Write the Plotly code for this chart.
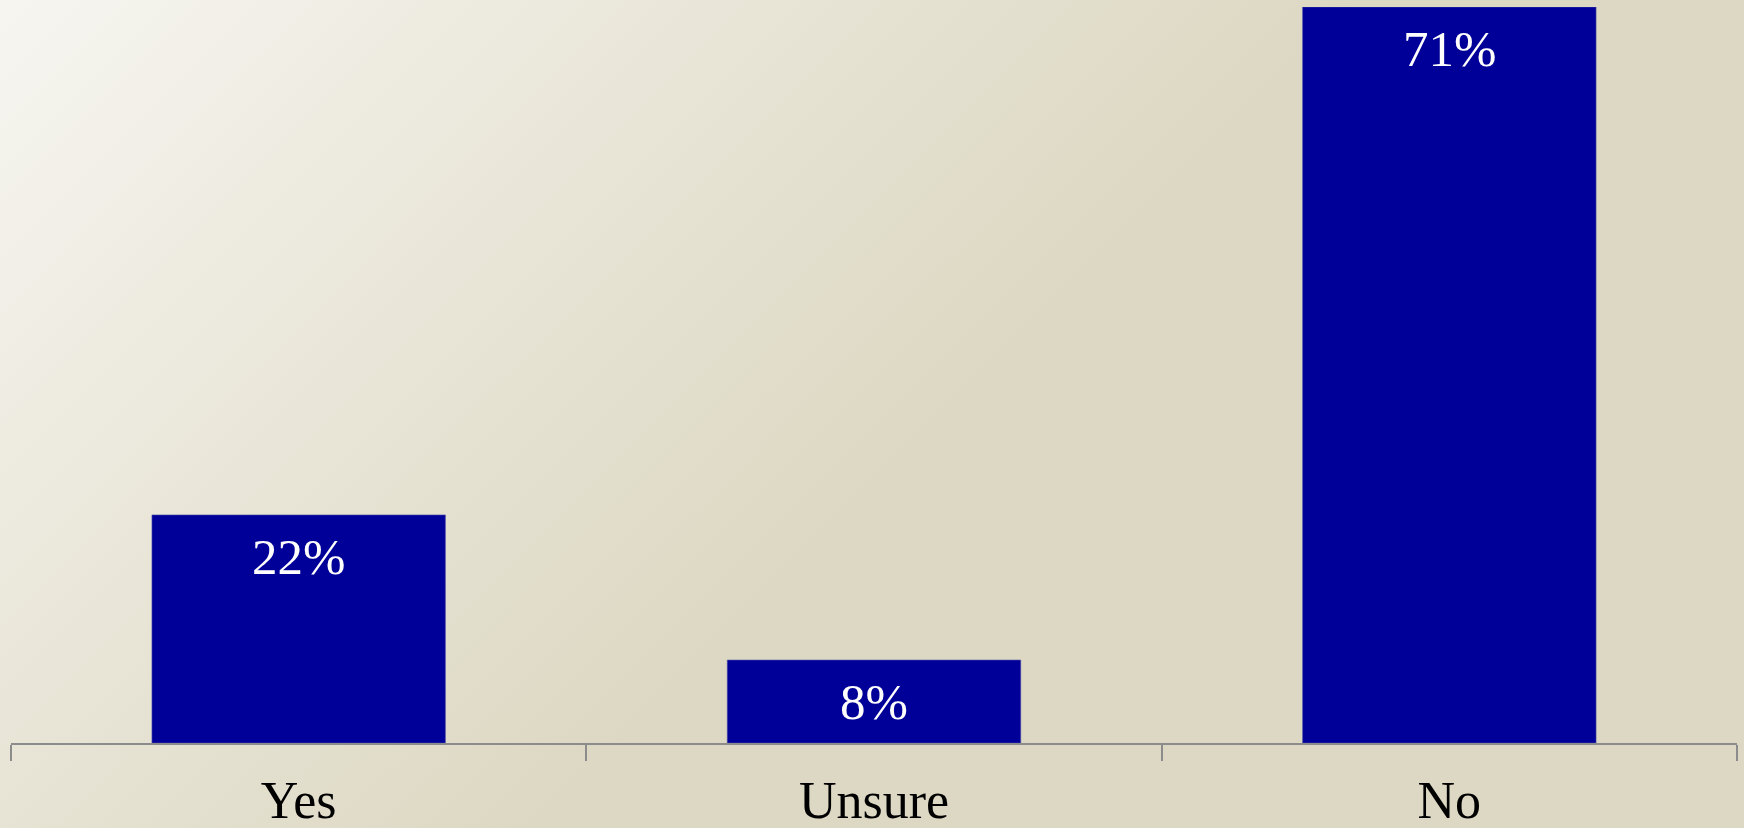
import base64
import plotly.graph_objects as go

categories = ["Yes", "Unsure", "No"]
values = [22, 8, 71]
labels = ["22%", "8%", "71%"]

W, H = 1744, 828
ML, MR, MT, MB = 11, 7, 7, 85

svg = f'''<svg xmlns="http://www.w3.org/2000/svg" width="{W}" height="{H}" viewBox="0 0 {W} {H}" preserveAspectRatio="none">
<defs><linearGradient id="g" gradientUnits="userSpaceOnUse" x1="0" y1="0" x2="680" y2="680">
<stop offset="0" stop-color="#f6f5f0"/><stop offset="1" stop-color="#ddd8c3"/></linearGradient></defs>
<rect x="0" y="0" width="{W}" height="{H}" fill="url(#g)"/></svg>'''
src = "data:image/svg+xml;base64," + base64.b64encode(svg.encode()).decode()

pw = W - ML - MR
ph = H - MT - MB

fig = go.Figure()
fig.add_trace(go.Bar(
    x=categories, y=values,
    marker=dict(color="#000099", line=dict(color="#4a4aa6", width=0.6)),
    width=0.51, hoverinfo="skip",
))

for c, v, t in zip(categories, values, labels):
    fig.add_annotation(x=c, y=v, text=t, showarrow=False, yanchor="top",
                       yshift=-12, font=dict(family="Liberation Serif", size=51, color="white"))

fig.add_layout_image(dict(
    source=src, xref="paper", yref="paper",
    x=-ML / pw, y=1 + MT / ph, sizex=W / pw, sizey=H / ph,
    xanchor="left", yanchor="top", sizing="stretch", layer="below",
))

fig.update_layout(
    width=W, height=H,
    margin=dict(l=ML, r=MR, t=MT, b=MB, autoexpand=False),
    paper_bgcolor="#e3dfcc", plot_bgcolor="rgba(0,0,0,0)",
    showlegend=False,
    xaxis=dict(
        showline=True, linecolor="#8c8c8c", linewidth=1.5,
        ticks="outside", tickson="boundaries", ticklen=16, tickcolor="#8c8c8c", tickwidth=1.5,
        ticklabelstandoff=11, automargin=False,
        tickfont=dict(family="Liberation Serif", size=52, color="black"),
        showgrid=False, zeroline=False, fixedrange=True,
    ),
    yaxis=dict(range=[0, 71], visible=False, showgrid=False, zeroline=False,
               fixedrange=True, automargin=False),
)

fig.write_html("out.html", config={"displayModeBar": False},
               post_script="document.body.style.margin='0';document.body.style.overflow='hidden';")
